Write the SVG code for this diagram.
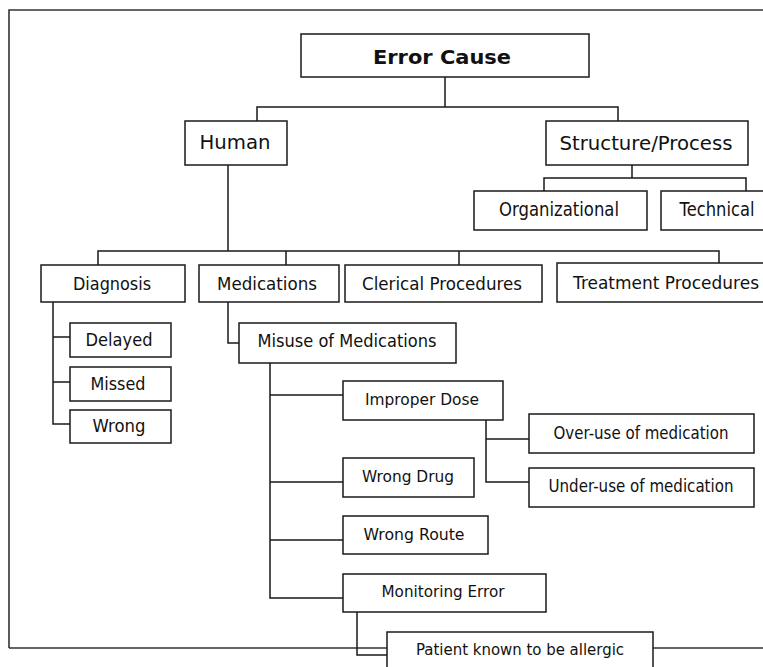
<svg xmlns="http://www.w3.org/2000/svg" width="763" height="667" viewBox="0 0 763 667">
<style>
.box{fill:#fff;stroke:#1a1a1a;stroke-width:1.5}
.ln{fill:none;stroke:#1a1a1a;stroke-width:1.5}
.fr{fill:none;stroke:#333;stroke-width:1.6}
text{font-family:"DejaVu Sans","Liberation Sans",sans-serif;fill:#111;text-anchor:middle}
.b{font-weight:bold}
</style>
<rect width="763" height="667" fill="#fff"/>
<g id="frame">
<path class="fr" d="M9,648 V10 H763 M9,648 H387 M653,648 H763"/>
</g>
<g id="connectors">
<path class="ln" d="M445,77 V107 M257,121 V107 H618 V121"/>
<path class="ln" d="M632,165 V178 M544,191 V178 H746 V191"/>
<path class="ln" d="M228,165 V251 M98,265 V251 H719 V265 M286,251 V265 M459,251 V265"/>
<path class="ln" d="M53,302 V424 H70 M53,337 H70 M53,382 H70"/>
<path class="ln" d="M228,302 V343 H239"/>
<path class="ln" d="M270,363 V598 H343 M270,395 H343 M270,482 H343 M270,540 H343"/>
<path class="ln" d="M486,420 V482 H529 M486,439 H529"/>
<path class="ln" d="M357,612 V655 H387"/>
</g>
<g id="error-cause"><rect class="box" x="301" y="34" width="288" height="43"/><text class="b" x="442" y="64" font-size="19" textLength="138" lengthAdjust="spacingAndGlyphs">Error Cause</text></g>
<g id="human"><rect class="box" x="185" y="121" width="102" height="44"/><text x="235" y="149" font-size="19" textLength="71" lengthAdjust="spacingAndGlyphs">Human</text></g>
<g id="structure-process"><rect class="box" x="546" y="121" width="202" height="44"/><text x="646" y="150" font-size="19" textLength="173" lengthAdjust="spacingAndGlyphs">Structure/Process</text></g>
<g id="organizational"><rect class="box" x="474" y="191" width="173" height="39"/><text x="559" y="216" font-size="19" textLength="120" lengthAdjust="spacingAndGlyphs">Organizational</text></g>
<g id="technical"><rect class="box" x="661" y="191" width="104" height="39"/><text x="717" y="216" font-size="19" textLength="75" lengthAdjust="spacingAndGlyphs">Technical</text></g>
<g id="diagnosis"><rect class="box" x="41" y="265" width="144" height="37"/><text x="112" y="290" font-size="18" textLength="78" lengthAdjust="spacingAndGlyphs">Diagnosis</text></g>
<g id="medications"><rect class="box" x="199" y="265" width="140" height="37"/><text x="267" y="290" font-size="18" textLength="100" lengthAdjust="spacingAndGlyphs">Medications</text></g>
<g id="clerical"><rect class="box" x="345" y="265" width="197" height="37"/><text x="442" y="290" font-size="18" textLength="160" lengthAdjust="spacingAndGlyphs">Clerical Procedures</text></g>
<g id="treatment"><rect class="box" x="557" y="263" width="208" height="39"/><text x="666" y="289" font-size="18" textLength="186" lengthAdjust="spacingAndGlyphs">Treatment Procedures</text></g>
<g id="delayed"><rect class="box" x="70" y="323" width="101" height="34"/><text x="119" y="346" font-size="18" textLength="67" lengthAdjust="spacingAndGlyphs">Delayed</text></g>
<g id="missed"><rect class="box" x="70" y="367" width="101" height="34"/><text x="118" y="390" font-size="18" textLength="55" lengthAdjust="spacingAndGlyphs">Missed</text></g>
<g id="wrong"><rect class="box" x="70" y="410" width="101" height="33"/><text x="119" y="432" font-size="18" textLength="53" lengthAdjust="spacingAndGlyphs">Wrong</text></g>
<g id="misuse"><rect class="box" x="239" y="323" width="217" height="40"/><text x="347" y="347" font-size="18" textLength="179" lengthAdjust="spacingAndGlyphs">Misuse of Medications</text></g>
<g id="improper-dose"><rect class="box" x="343" y="381" width="160" height="39"/><text x="422" y="405" font-size="16" textLength="114" lengthAdjust="spacingAndGlyphs">Improper Dose</text></g>
<g id="over-use"><rect class="box" x="529" y="414" width="225" height="39"/><text x="641" y="439" font-size="17" textLength="175" lengthAdjust="spacingAndGlyphs">Over-use of medication</text></g>
<g id="under-use"><rect class="box" x="529" y="468" width="225" height="39"/><text x="641" y="492" font-size="17" textLength="185" lengthAdjust="spacingAndGlyphs">Under-use of medication</text></g>
<g id="wrong-drug"><rect class="box" x="343" y="458" width="131" height="39"/><text x="408" y="482" font-size="16" textLength="92" lengthAdjust="spacingAndGlyphs">Wrong Drug</text></g>
<g id="wrong-route"><rect class="box" x="343" y="516" width="145" height="38"/><text x="414" y="540" font-size="16" textLength="101" lengthAdjust="spacingAndGlyphs">Wrong Route</text></g>
<g id="monitoring-error"><rect class="box" x="343" y="574" width="203" height="38"/><text x="443" y="597" font-size="16" textLength="123" lengthAdjust="spacingAndGlyphs">Monitoring Error</text></g>
<g id="patient-allergic"><rect class="box" x="387" y="632" width="266" height="45"/><text x="520" y="655" font-size="16" textLength="208" lengthAdjust="spacingAndGlyphs">Patient known to be allergic</text></g>
</svg>
